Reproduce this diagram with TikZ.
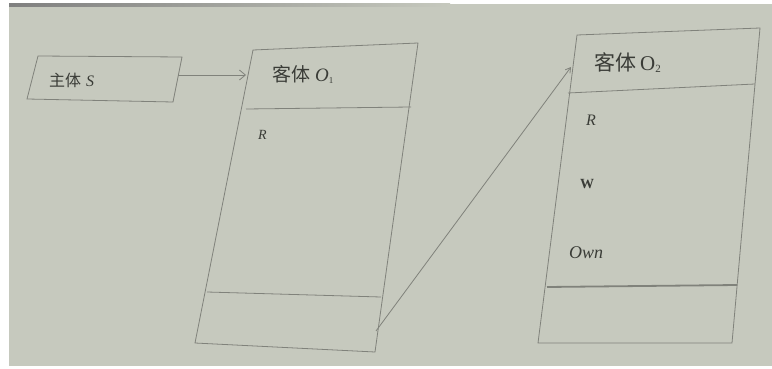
\documentclass[tikz,border=0pt]{standalone}
\usepackage{fontspec}
\setmainfont{Liberation Serif}
\newfontfamily\cjk{Noto Sans CJK SC}
\usetikzlibrary{arrows.meta}
\definecolor{paper}{RGB}{198,201,190}
\definecolor{ink}{RGB}{128,130,123}
\definecolor{txt}{RGB}{58,60,55}
\begin{document}
\begin{tikzpicture}[x=1pt,y=-1pt,
  frame/.style={draw=ink,line width=0.8pt},
  lbl/.style={text=txt,inner sep=0pt,anchor=west},
  conn/.style={draw=ink,line width=0.8pt}]
\useasboundingbox (0,0) rectangle (772,369);
\fill[white] (0,0) rectangle (772,369);
\fill[paper] (9,4) rectangle (772,366);
\shade[left color=black!50,right color=paper] (9,4) rectangle (450,6.5);
% subject box
\coordinate (s1) at (38,56); \coordinate (s2) at (182,57);
\coordinate (s3) at (173,102); \coordinate (s4) at (27,99);
\draw[frame] (s1) -- (s2) -- (s3) -- (s4) -- cycle;
\node[lbl,font=\cjk\fontsize{16}{16}\selectfont] (ts) at (49,80) {主体\hspace{5pt}{\normalfont\itshape S}};
% object O1
\coordinate (a1) at (253,50); \coordinate (a2) at (418,43);
\coordinate (a3) at (375,352); \coordinate (a4) at (195,343);
\draw[frame] (a1) -- (a2) -- (a3) -- (a4) -- cycle;
\coordinate (ad1l) at (246,109); \coordinate (ad1r) at (411,107);
\draw[frame] (ad1l) -- (ad1r);
\coordinate (ad2l) at (207,292); \coordinate (ad2r) at (381,297);
\draw[frame] (ad2l) -- (ad2r);
\node[lbl,font=\cjk\fontsize{19}{19}\selectfont] (t1) at (272,74) {客体\hspace{5pt}{\normalfont\itshape O}{\normalfont\fontsize{9}{9}\selectfont\raisebox{-2pt}{1}}};
\node[lbl,font=\itshape\fontsize{14}{14}\selectfont] (r1) at (258,135) {R};
% object O2
\coordinate (b1) at (577,35); \coordinate (b2) at (760,28);
\coordinate (b3) at (732,343); \coordinate (b4) at (538,343);
\draw[frame] (b1) -- (b2) -- (b3) -- (b4) -- cycle;
\coordinate (bd1l) at (568,93); \coordinate (bd1r) at (755,84);
\draw[frame] (bd1l) -- (bd1r);
\coordinate (bd2l) at (547,287); \coordinate (bd2r) at (737,285);
\draw[frame,line width=1.8pt] (bd2l) -- (bd2r);
\node[lbl,font=\cjk\fontsize{21}{21}\selectfont] (t2) at (594,63) {客体\hspace{4pt}{\normalfont O}{\normalfont\fontsize{11}{11}\selectfont\raisebox{-2pt}{2}}};
\node[lbl,font=\itshape\fontsize{16}{16}\selectfont] (r2) at (586,120) {R};
\node[lbl,font=\bfseries\fontsize{14}{14}\selectfont] (w2) at (580,184) {W};
\node[lbl,font=\itshape\fontsize{18}{18}\selectfont] (o2) at (569,253) {Own};
% connectors
\coordinate (c1s) at (178,75); \coordinate (c1e) at (246,75);
\draw[conn,-{Straight Barb[length=6pt,width=10pt]}] (c1s) -- (c1e);
\coordinate (c2s) at (376,331); \coordinate (c2e) at (571,67);
\draw[conn,-{Straight Barb[length=5pt,width=6pt]}] (c2s) -- (c2e);
\end{tikzpicture}
\end{document}
